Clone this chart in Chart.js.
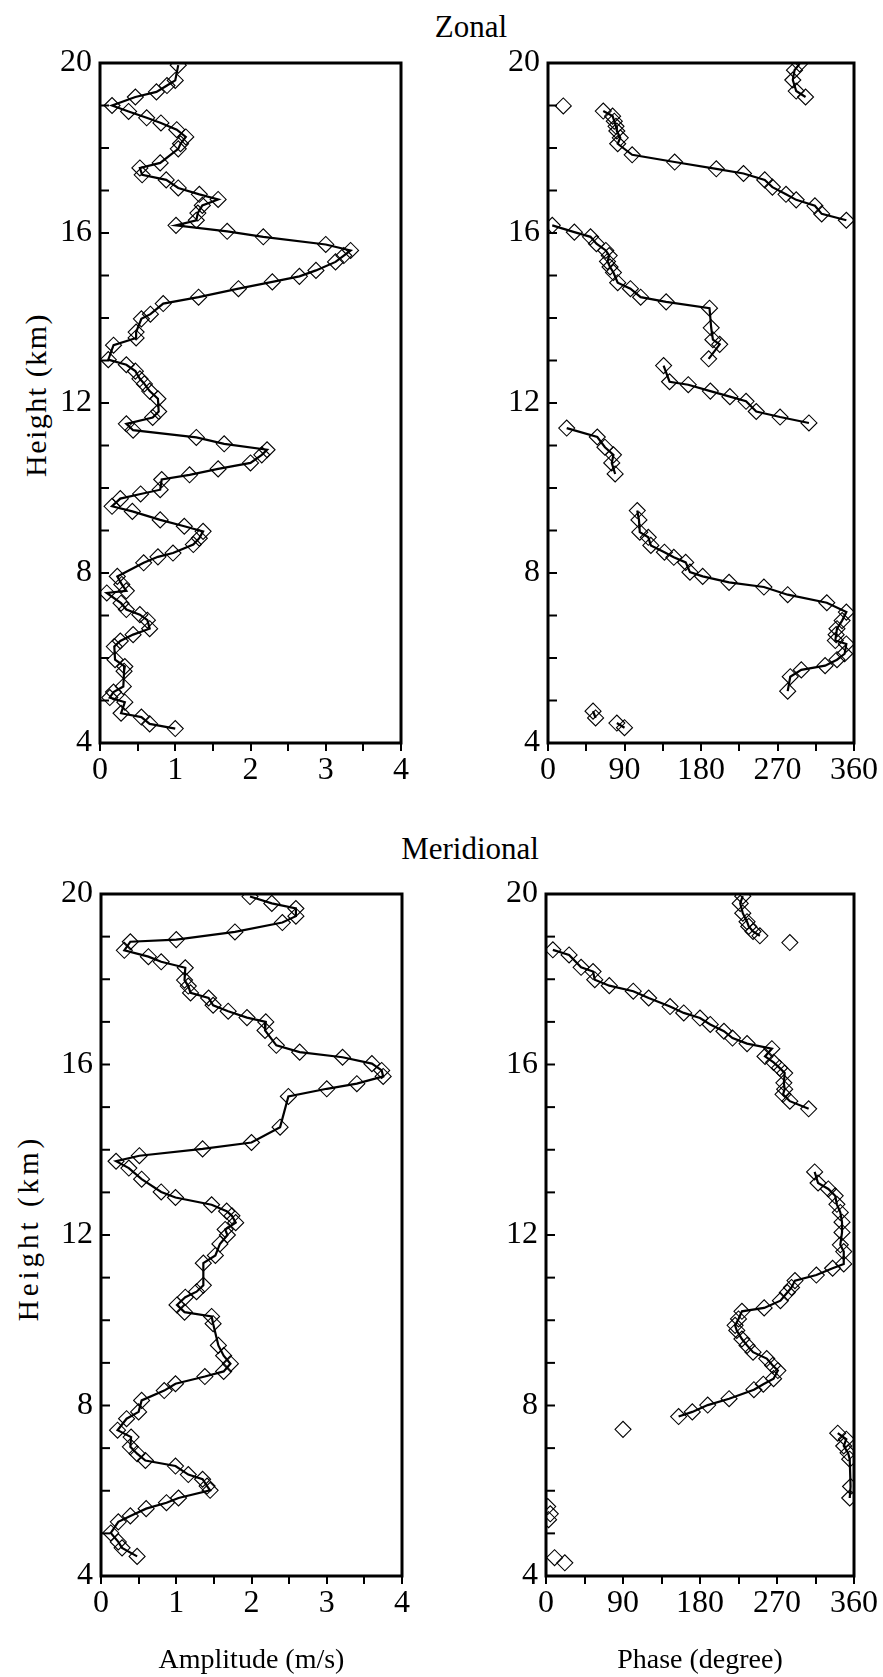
<!DOCTYPE html>
<html>
<head>
<meta charset="utf-8">
<title>Zonal / Meridional amplitude and phase</title>
<script src="https://cdn.jsdelivr.net/npm/chart.js@4.4.1/dist/chart.umd.min.js"></script>
<style>
  body { margin: 0; background: #fff; }
  #page { position: relative; width: 883px; height: 1677px; background: #fff; overflow: hidden; }
  #page canvas { position: absolute; }
  .label { position: absolute; font-family: 'Liberation Serif', 'Times New Roman', serif; color: #000; white-space: nowrap; transform: translate(-50%, -50%); }
  .ytitle { transform: translate(-50%, -50%) rotate(-90deg); }
</style>
</head>
<body>
<div id="page">
  <div class="label" style="left:471px; top:27px; font-size:31px;">Zonal</div>
  <div class="label" style="left:470px; top:849px; font-size:31px;">Meridional</div>
  <div class="label ytitle" style="left:36px; top:395px; font-size:30px; letter-spacing:1.5px;">Height (km)</div>
  <div class="label ytitle" style="left:28px; top:1228px; font-size:29px; letter-spacing:4px;">Height (km)</div>
  <canvas id="zonalAmp" width="441" height="770" style="left:0; top:30px;"></canvas>
  <canvas id="zonalPhase" width="413" height="770" style="left:470px; top:30px;"></canvas>
  <canvas id="meridAmp" width="441" height="817" style="left:0; top:860px;"></canvas>
  <canvas id="meridPhase" width="413" height="817" style="left:470px; top:860px;"></canvas>
</div>
<script>
// ---- zonal amplitude (m/s) vs height (km)
const zonalAmpHeight = [19.95, 19.59, 19.47, 19.32, 19.2, 19.0, 18.86, 18.71, 18.59, 18.43, 18.26, 18.1, 17.98,
  17.65, 17.53, 17.37, 17.25, 17.06, 16.91, 16.79, 16.65, 16.47, 16.3, 16.18, 16.04, 15.91, 15.73, 15.59, 15.47,
  15.32, 15.12, 14.98, 14.85, 14.69, 14.49, 14.34, 14.09, 13.98, 13.67, 13.53, 13.36, 13.02, 12.9, 12.75, 12.57,
  12.45, 12.28, 12.1, 11.8, 11.66, 11.51, 11.36, 11.19, 11.04, 10.9, 10.78, 10.59, 10.45, 10.31, 10.2, 9.96, 9.86,
  9.75, 9.57, 9.45, 9.25, 9.1, 8.98, 8.82, 8.67, 8.47, 8.38, 8.24, 7.92, 7.73, 7.58, 7.53, 7.29, 7.14, 7.02, 6.89,
  6.69, 6.55, 6.4, 6.27, 5.96, 5.8, 5.69, 5.33, 5.2, 5.07, 4.96, 4.7, 4.61, 4.45, 4.34];
const zonalAmp = [1.04, 1.0, 0.89, 0.75, 0.47, 0.16, 0.38, 0.62, 0.81, 1.02, 1.14, 1.07, 1.04,
  0.8, 0.53, 0.56, 0.88, 1.04, 1.32, 1.57, 1.36, 1.3, 1.28, 1.01, 1.69, 2.17, 3.0, 3.33, 3.24,
  3.13, 2.87, 2.65, 2.29, 1.84, 1.31, 0.84, 0.67, 0.55, 0.48, 0.48, 0.18, 0.11, 0.35, 0.47, 0.53,
  0.59, 0.66, 0.77, 0.78, 0.7, 0.35, 0.44, 1.28, 1.65, 2.22, 2.15, 2.0, 1.57, 1.19, 0.82, 0.8, 0.54,
  0.27, 0.16, 0.43, 0.8, 1.12, 1.37, 1.32, 1.24, 0.97, 0.77, 0.58, 0.23, 0.29, 0.35, 0.09, 0.28, 0.35, 0.53, 0.63,
  0.66, 0.44, 0.27, 0.19, 0.2, 0.33, 0.32, 0.31, 0.18, 0.13, 0.33, 0.28, 0.55, 0.66, 1.0];

// ---- zonal phase (degree), broken into runs where the phase wraps
const zonalPhaseRuns = [
  { h: [19.98, 19.83, 19.6, 19.34, 19.2], p: [296, 290, 288, 292, 303] },
  { h: [18.87, 18.75, 18.63, 18.51, 18.4, 18.24, 18.1, 17.84, 17.67, 17.51, 17.4, 17.25, 17.08, 16.91, 16.78, 16.64, 16.45, 16.3],
    p: [65, 76, 78, 80, 81, 85, 82, 99, 149, 198, 230, 255, 264, 280, 292, 314, 322, 351] },
  { h: [16.18, 16.02, 15.91, 15.75, 15.59, 15.47, 15.33, 15.2, 15.07, 14.83, 14.69, 14.49, 14.38, 14.23, 13.77, 13.49, 13.38, 13.04],
    p: [5, 31, 50, 57, 68, 72, 70, 73, 77, 82, 97, 109, 139, 190, 192, 194, 202, 189] },
  { h: [12.88, 12.5, 12.43, 12.28, 12.15, 12.04, 11.8, 11.67, 11.53], p: [136, 143, 165, 191, 214, 233, 245, 273, 307] },
  { h: [11.41, 11.2, 10.96, 10.78, 10.59, 10.33], p: [22, 58, 67, 77, 75, 79] },
  { h: [9.47, 9.25, 8.96, 8.84, 8.65, 8.49, 8.37, 8.25, 8.02, 7.92, 7.78, 7.67, 7.49, 7.3, 7.08, 6.88, 6.69, 6.55, 6.41, 6.33, 6.1, 5.96, 5.82, 5.72, 5.56, 5.22],
    p: [105, 107, 108, 118, 121, 137, 148, 162, 167, 182, 213, 254, 282, 328, 351, 346, 340, 339, 338, 351, 349, 340, 326, 298, 285, 282] },
  { h: [4.75, 4.59], p: [53, 56] },
  { h: [4.47, 4.36], p: [81, 90] }
];
const zonalPhaseLoneHeight = [18.99];
const zonalPhaseLone = [18];

// ---- meridional amplitude (m/s)
const meridAmpHeight = [19.94, 19.78, 19.66, 19.48, 19.33, 19.11, 18.93, 18.88, 18.68, 18.53, 18.41, 18.27, 17.98,
  17.84, 17.68, 17.56, 17.39, 17.25, 17.1, 17.0, 16.8, 16.45, 16.29, 16.17, 16.02, 15.86, 15.72, 15.55, 15.43,
  15.25, 14.53, 14.17, 14.02, 13.86, 13.73, 13.57, 13.31, 13.01, 12.88, 12.71, 12.56, 12.45, 12.29, 12.13, 12.0,
  11.79, 11.52, 11.34, 10.82, 10.67, 10.54, 10.36, 10.19, 10.09, 9.92, 9.41, 9.17, 8.98, 8.8, 8.68, 8.51, 8.35,
  8.12, 7.85, 7.69, 7.42, 7.26, 7.03, 6.87, 6.71, 6.58, 6.38, 6.27, 6.11, 6.01, 5.83, 5.72, 5.58, 5.41, 5.27,
  5.01, 4.8, 4.66, 4.46];
const meridAmp = [1.98, 2.27, 2.59, 2.59, 2.41, 1.78, 1.0, 0.39, 0.31, 0.63, 0.8, 1.12, 1.11,
  1.16, 1.19, 1.43, 1.49, 1.69, 1.94, 2.19, 2.18, 2.33, 2.64, 3.21, 3.6, 3.73, 3.75, 3.4, 3.0,
  2.49, 2.38, 2.0, 1.35, 0.51, 0.2, 0.37, 0.54, 0.8, 0.99, 1.47, 1.67, 1.74, 1.79, 1.65, 1.68,
  1.58, 1.52, 1.36, 1.36, 1.27, 1.12, 1.01, 1.11, 1.47, 1.49, 1.56, 1.63, 1.72, 1.63, 1.38, 0.99, 0.84,
  0.54, 0.5, 0.34, 0.22, 0.4, 0.39, 0.48, 0.59, 0.99, 1.16, 1.35, 1.41, 1.45, 1.03, 0.87, 0.6, 0.39, 0.23,
  0.13, 0.23, 0.28, 0.48];

// ---- meridional phase (degree)
const meridPhaseRuns = [
  { h: [19.95, 19.78, 19.55, 19.35, 19.24, 19.12, 19.02], p: [230, 227, 230, 235, 237, 242, 250] },
  { h: [18.69, 18.57, 18.28, 18.18, 17.99, 17.85, 17.72, 17.56, 17.36, 17.21, 17.09, 16.94, 16.78, 16.62, 16.49, 16.37, 16.19, 16.05, 15.92, 15.8, 15.57, 15.42, 15.3, 15.14, 14.96],
    p: [8, 27, 41, 55, 57, 74, 102, 120, 145, 161, 180, 192, 208, 218, 235, 264, 256, 266, 273, 279, 278, 279, 277, 285, 307] },
  { h: [13.48, 13.22, 13.08, 12.92, 12.72, 12.53, 12.3, 12.06, 11.77, 11.61, 11.32, 11.22, 11.06, 10.93, 10.77, 10.65, 10.46, 10.29, 10.21, 10.03, 9.88, 9.76, 9.56, 9.41, 9.25, 9.1, 8.94, 8.82, 8.63, 8.5, 8.37, 8.16, 8.01, 7.85, 7.74],
    p: [314, 318, 330, 338, 340, 344, 346, 346, 344, 348, 348, 335, 316, 291, 287, 282, 274, 255, 229, 225, 221, 223, 229, 235, 242, 258, 265, 271, 266, 254, 243, 214, 189, 171, 155] },
  { h: [7.35, 7.21, 7.05, 6.89, 6.74, 6.1, 5.83], p: [341, 351, 348, 353, 355, 356, 355] }
];
const meridPhaseLoneHeight = [18.86, 7.44, 5.63, 5.46, 5.32, 4.43, 4.31];
const meridPhaseLone = [285, 90, 2, 5, 3, 10, 22];

// axis ranges and labelled ticks
const heightRange = [4, 20];
const heightLabels = [4, 8, 12, 16, 20];
const ampRange = [0, 4];
const ampLabels = [0, 1, 2, 3, 4];
const phaseRange = [0, 360];
const phaseLabels = [0, 90, 180, 270, 360];

const FONT = "'Liberation Serif', 'Times New Roman', serif";

function series(heights, values, joined) {
  return {
    data: heights.map((h, i) => ({ x: values[i], y: h })),
    showLine: joined,
    borderColor: '#000',
    borderWidth: 2.2,
    backgroundColor: 'rgba(0,0,0,0)',
    pointStyle: 'rectRot',
    pointRadius: 8,
    pointBorderWidth: 1.1,
    pointBorderColor: '#000',
    pointBackgroundColor: 'rgba(0,0,0,0)',
    tension: 0,
    clip: 1
  };
}

// closed frame plus inward height ticks on the left edge
const framePlugin = {
  id: 'frame',
  afterDraw(chart) {
    const { ctx, chartArea: a } = chart;
    const ys = chart.scales.y;
    ctx.save();
    ctx.strokeStyle = '#000';
    ctx.lineWidth = 2;
    ys.ticks.forEach(t => {
      const py = ys.getPixelForValue(t.value);
      ctx.beginPath();
      ctx.moveTo(a.left, py);
      ctx.lineTo(a.left + 9, py);
      ctx.stroke();
    });
    ctx.lineWidth = 3;
    ctx.strokeRect(a.left, a.top, a.right - a.left, a.bottom - a.top);
    ctx.restore();
  }
};

function panel(id, box, area, xRange, xStep, xLabels, datasets, xTitle) {
  const el = document.getElementById(id);
  new Chart(el, {
    type: 'scatter',
    data: { datasets },
    plugins: [framePlugin],
    options: {
      responsive: false,
      animation: false,
      devicePixelRatio: 1,
      layout: { padding: { left: 0, top: area.t - box.t, right: box.r - area.r, bottom: 0 } },
      plugins: { legend: { display: false }, tooltip: { enabled: false } },
      scales: {
        x: {
          type: 'linear',
          min: xRange[0],
          max: xRange[1],
          afterFit: s => { s.height = box.b - area.b; },
          border: { display: false },
          grid: { drawOnChartArea: false, drawTicks: true, tickLength: 8, color: '#000', lineWidth: 2 },
          ticks: {
            stepSize: xStep,
            autoSkip: false,
            maxRotation: 0,
            padding: 0,
            color: '#000',
            font: { family: FONT, size: 32 },
            callback: v => (xLabels.includes(v) ? String(v) : '')
          },
          title: {
            display: !!xTitle,
            text: xTitle || '',
            color: '#000',
            font: { family: FONT, size: 28 },
            padding: { top: 0, bottom: 0 }
          }
        },
        y: {
          type: 'linear',
          min: heightRange[0],
          max: heightRange[1],
          afterFit: s => { s.width = area.l - box.l; },
          border: { display: false },
          grid: { display: false, drawTicks: false },
          ticks: {
            stepSize: 1,
            autoSkip: false,
            padding: 8,
            color: '#000',
            font: { family: FONT, size: 32 },
            callback: v => (heightLabels.includes(v) ? String(v) : '')
          }
        }
      }
    }
  });
}

// canvas boxes and plot areas in page pixels
const topY = 30, botY = 860;
panel('zonalAmp', { l: 0, t: topY, r: 441, b: 800 }, { l: 100, t: 63, r: 401, b: 743 },
  ampRange, 0.5, ampLabels, [series(zonalAmpHeight, zonalAmp, true)]);

panel('zonalPhase', { l: 470, t: topY, r: 883, b: 800 }, { l: 548, t: 63, r: 854, b: 743 },
  phaseRange, 45, phaseLabels,
  zonalPhaseRuns.map(r => series(r.h, r.p, true)).concat([series(zonalPhaseLoneHeight, zonalPhaseLone, false)]));

panel('meridAmp', { l: 0, t: botY, r: 441, b: 1677 }, { l: 101, t: 894, r: 402, b: 1576 },
  ampRange, 0.5, ampLabels, [series(meridAmpHeight, meridAmp, true)], 'Amplitude (m/s)');

panel('meridPhase', { l: 470, t: botY, r: 883, b: 1677 }, { l: 546, t: 894, r: 854, b: 1576 },
  phaseRange, 45, phaseLabels,
  meridPhaseRuns.map(r => series(r.h, r.p, true)).concat([series(meridPhaseLoneHeight, meridPhaseLone, false)]),
  'Phase (degree)');
</script>
</body>
</html>
